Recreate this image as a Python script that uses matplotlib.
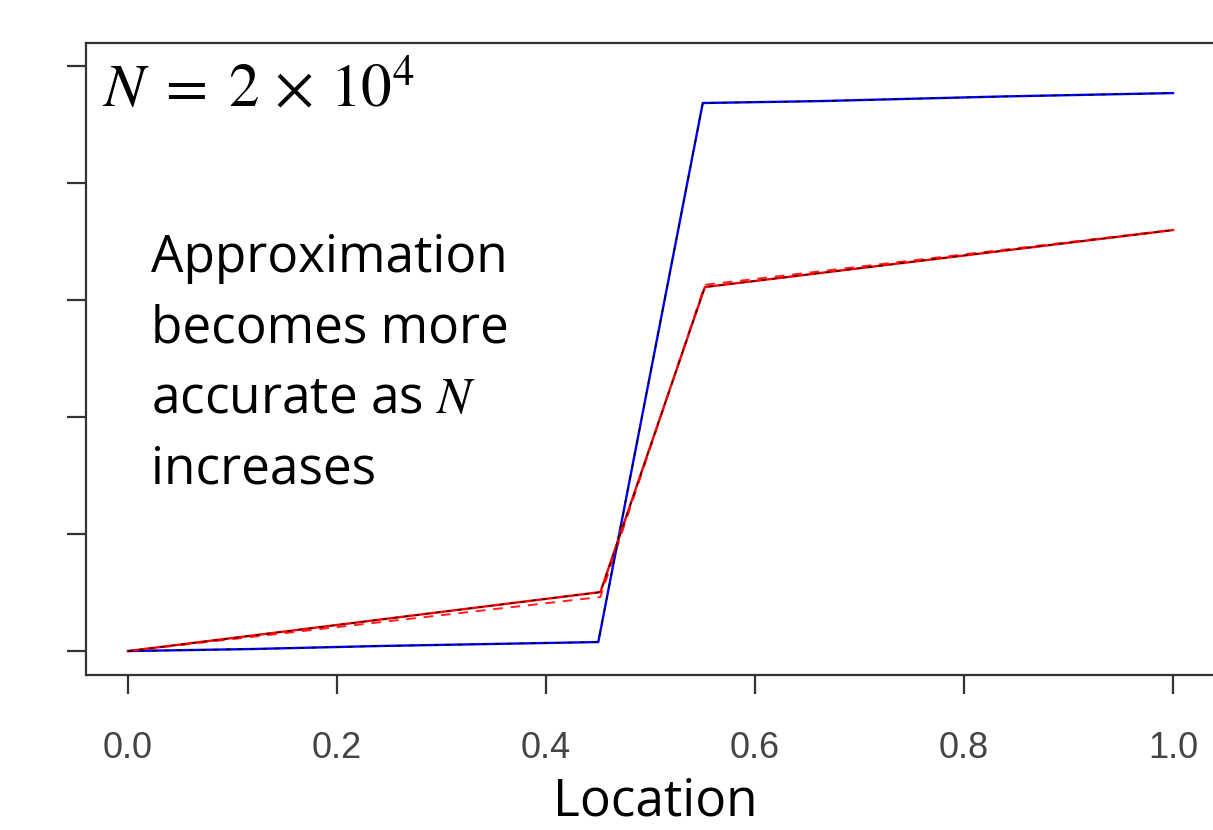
import numpy as np
import matplotlib.pyplot as plt

plt.rcParams['mathtext.fontset'] = 'stix'

# exact curves (solid) and the approximations (dashed)
loc_blue = [0.0, 0.117, 0.24, 0.45, 0.55, 0.66, 0.837, 1.0]
val_blue = [0.0, 0.017, 0.043, 0.077, 4.684, 4.70, 4.74, 4.769]

loc_red = [0.0, 0.452, 0.552, 1.0]
val_red = [0.0, 0.504, 3.111, 3.598]
val_red_dash = [0.0, 0.462, 3.13, 3.60]

xticks = [0.0, 0.2, 0.4, 0.6, 0.8, 1.0]
yticks = [0, 1, 2, 3, 4, 5]

fig = plt.figure(figsize=(12.13, 8.30), dpi=100)
ax = fig.add_axes([0.0711, 0.1867, 0.9304, 0.7615])

ax.plot(loc_blue, val_blue, color='#0000ff', lw=1.7, zorder=3)
ax.plot(loc_blue, val_blue, color='#000022', lw=1.1, ls=(0, (3, 5)), zorder=4)
ax.plot(loc_red, val_red, color='#ff0000', lw=1.7, zorder=3)
ax.plot(loc_red, val_red, color='#440000', lw=1.1, ls=(0, (3, 4)), zorder=4)
ax.plot(loc_red, val_red_dash, color='#ff2020', lw=1.4, ls=(0, (5, 4)), zorder=2)

ax.set_xlim(-0.04, 1.04)
ax.set_ylim(-0.205, 5.197)
ax.set_xticks(xticks)
ax.set_xticklabels(['%.1f' % t for t in xticks])
ax.set_yticks(yticks)
ax.set_yticklabels([])
ax.tick_params(axis='x', length=14, width=1.6, color='#333333', pad=26,
               labelsize=26, labelcolor='#444444')
ax.tick_params(axis='y', length=14, width=1.6, color='#333333')
for lab in ax.get_xticklabels():
    lab.set_family('Liberation Sans')
for s in ax.spines.values():
    s.set_color('#333333')
    s.set_linewidth(1.6)

ax.text(0.014, 0.972, r'$N\;=\;2\,\times\,10^4$', transform=ax.transAxes,
        fontsize=44, va='top', ha='left')
ax.text(0.057, 0.70,
        'Approximation\nbecomes more\naccurate as $N$\nincreases',
        transform=ax.transAxes, fontsize=37, family='Open Sans',
        va='top', ha='left', linespacing=1.5)

fig.text(0.54, 0.003, 'Location', fontsize=37, family='Open Sans',
         ha='center', va='bottom')

fig.savefig('out.png', dpi=100)
